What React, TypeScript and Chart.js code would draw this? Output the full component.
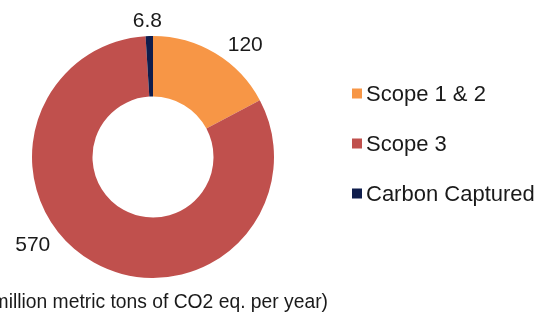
import React, { useEffect, useRef } from "react";
import { Chart, registerables } from "chart.js";

Chart.register(...registerables);

const categories = ["Scope 1 & 2", "Scope 3", "Carbon Captured"];
const values = [120, 570, 6.8];
const valueLabels = ["120", "570", "6.8"];
const colors = ["#F79646", "#C0504D", "#0F1D4C"];
const footnote = "(million metric tons of CO2 eq. per year)";

const FONT = '"Liberation Sans", Arial, Helvetica, sans-serif';

// style: where along each slice its value label sits (fraction of the arc)
const labelFractions = [0.63, 0.585, 0.34];

const labelsPlugin = {
  id: "customLabels",
  afterDatasetsDraw(chart: any) {
    const ctx = chart.ctx;
    const meta = chart.getDatasetMeta(0);
    ctx.save();
    ctx.fillStyle = "#1a1a1a";
    ctx.font = `21px ${FONT}`;
    ctx.textAlign = "center";
    ctx.textBaseline = "alphabetic";
    meta.data.forEach((arc: any, i: number) => {
      const p = arc.getProps(["x", "y", "startAngle", "endAngle", "outerRadius"], true);
      const a = p.startAngle + (p.endAngle - p.startAngle) * labelFractions[i];
      const text = valueLabels[i];
      const hw = ctx.measureText(text).width / 2;
      const hh = 7.5;
      const dx = Math.cos(a);
      const dy = Math.sin(a);
      const support = hw * Math.abs(dx) + hh * Math.abs(dy);
      const r = p.outerRadius + 8.5 + support;
      ctx.fillText(text, p.x + dx * r, p.y + dy * r + hh);
    });
    ctx.restore();
  },
  afterDraw(chart: any) {
    const ctx = chart.ctx;
    ctx.save();
    // legend
    ctx.font = `22px ${FONT}`;
    ctx.textAlign = "left";
    ctx.textBaseline = "alphabetic";
    categories.forEach((c, i) => {
      const cy = 93.5 + 50 * i;
      ctx.fillStyle = colors[i];
      ctx.fillRect(352, cy - 5, 10, 10);
      ctx.fillStyle = "#1a1a1a";
      ctx.fillText(c, 366, cy + 7.9);
    });
    // footnote
    ctx.font = `19.3px ${FONT}`;
    ctx.textAlign = "right";
    ctx.fillText(footnote, 328, 308);
    ctx.restore();
  },
};

const bgPlugin = {
  id: "bg",
  beforeDraw(chart: any) {
    const ctx = chart.ctx;
    ctx.save();
    ctx.fillStyle = "#ffffff";
    ctx.fillRect(0, 0, chart.width, chart.height);
    ctx.restore();
  },
};

export default function App() {
  const ref = useRef<HTMLCanvasElement | null>(null);
  useEffect(() => {
    if (!ref.current) return;
    const chart = new Chart(ref.current, {
      type: "doughnut",
      data: {
        labels: categories,
        datasets: [
          {
            data: values,
            backgroundColor: colors,
            borderWidth: 0,
          },
        ],
      },
      options: {
        responsive: false,
        animation: false,
        devicePixelRatio: 1,
        cutout: "50%",
        layout: { padding: { left: 32, top: 36, right: 275, bottom: 40 } },
        plugins: {
          legend: { display: false },
          tooltip: { enabled: false },
          title: { display: false },
        },
      },
      plugins: [bgPlugin, labelsPlugin],
    });
    return () => chart.destroy();
  }, []);
  return (
    <div style={{ position: "fixed", left: 0, top: 0, width: 549, height: 318, background: "#fff" }}>
      <canvas ref={ref} width={549} height={318} style={{ display: "block", width: 549, height: 318 }} />
    </div>
  );
}
